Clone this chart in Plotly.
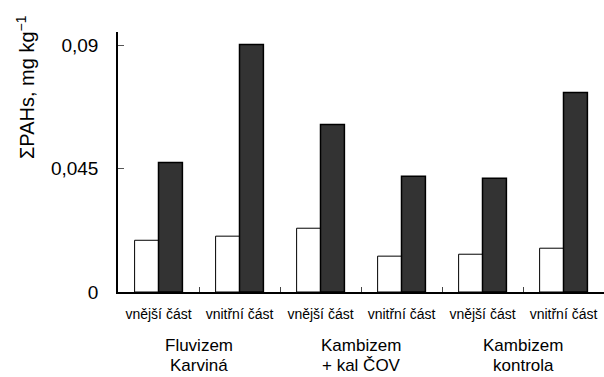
import plotly.graph_objects as go

# Data
categories = ["vnější část", "vnitřní část", "vnější část", "vnitřní část", "vnější část", "vnitřní část"]
group_line1 = ["Fluvizem", "Kambizem", "Kambizem"]
group_line2 = ["Karviná", "+ kal ČOV", "kontrola"]
series_white = [0.0189, 0.0204, 0.0233, 0.0131, 0.0138, 0.0160]
series_dark = [0.0473, 0.0904, 0.0612, 0.0423, 0.0416, 0.0729]
y_tickvals = [0, 0.045, 0.09]
y_ticktext = ["0", "0,045", "0,09"]

FONT = "Liberation Sans, Arial, sans-serif"
x_idx = list(range(len(categories)))

fig = go.Figure()
fig.add_trace(go.Bar(x=x_idx, y=series_white, name="A",
                     marker=dict(color="white", line=dict(color="black", width=1))))
fig.add_trace(go.Bar(x=x_idx, y=series_dark, name="B",
                     marker=dict(color="#333333", line=dict(color="black", width=1.5))))

fig.update_layout(
    width=604, height=377,
    margin=dict(l=118, r=0, t=32, b=85),
    paper_bgcolor="white", plot_bgcolor="white",
    showlegend=False,
    barmode="group", bargap=0.41, bargroupgap=0.0,
    font=dict(family=FONT, color="black"),
)
fig.update_xaxes(
    range=[-0.5, len(categories) - 0.5],
    tickmode="array", tickvals=x_idx, ticktext=categories,
    ticks="", showline=True, linecolor="black", linewidth=1.5,
    showgrid=False, zeroline=False,
    tickfont=dict(size=14, family=FONT),
    ticklabelstandoff=8,
    minor=dict(tickmode="array", tickvals=[i + 0.5 for i in x_idx[:-1]],
               ticks="inside", ticklen=5, tickcolor="#444", tickwidth=1, showgrid=False),
)
fig.update_yaxes(
    range=[0, 0.095],
    tickmode="array", tickvals=y_tickvals, ticktext=y_ticktext,
    ticks="inside", ticklen=6, tickcolor="#555", tickwidth=1,
    showline=True, linecolor="black", linewidth=1.5,
    showgrid=False, zeroline=False,
    tickfont=dict(size=19, family=FONT),
    ticklabelstandoff=14,
)

# Y-axis title
fig.add_annotation(text="ΣPAHs, mg kg<sup>−1</sup>", textangle=-90,
                   xref="paper", yref="paper", x=0, y=1, xshift=-93, yshift=-55,
                   xanchor="center", yanchor="middle", showarrow=False,
                   font=dict(size=20, family=FONT))

# Group labels
for g in range(len(group_line1)):
    xc = 2 * g + 0.5
    fig.add_annotation(text=group_line1[g], x=xc, xref="x", y=0, yref="paper",
                       yanchor="middle", yshift=-53, showarrow=False,
                       font=dict(size=17, family=FONT))
    fig.add_annotation(text=group_line2[g], x=xc, xref="x", y=0, yref="paper",
                       yanchor="middle", yshift=-73, showarrow=False,
                       font=dict(size=17, family=FONT))

fig.write_html("out.html", config={"displayModeBar": False},
               post_script="document.body.style.margin='0';document.body.style.overflow='hidden';")
